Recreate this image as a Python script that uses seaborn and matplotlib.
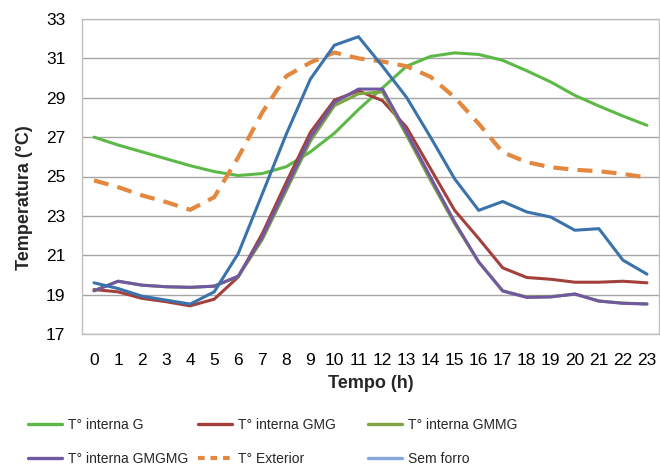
import matplotlib
matplotlib.use("Agg")
import matplotlib.pyplot as plt
import seaborn as sns
from matplotlib.lines import Line2D
from matplotlib import font_manager
from matplotlib.font_manager import FontProperties

# Hours of the day
horas = list(range(24))

# Temperatures (°C)
t_interna_g = [27.0, 26.6, 26.25, 25.9, 25.55, 25.25, 25.05, 25.15, 25.5, 26.25,
               27.2, 28.4, 29.5, 30.6, 31.1, 31.28, 31.2, 30.9, 30.37, 29.8,
               29.12, 28.58, 28.07, 27.6]
t_interna_gmg = [19.26, 19.14, 18.81, 18.64, 18.43, 18.77, 19.9, 22.1, 24.71, 27.24,
                 28.88, 29.35, 28.85, 27.5, 25.39, 23.28, 21.85, 20.36, 19.87, 19.78,
                 19.63, 19.63, 19.68, 19.6]
t_interna_gmmg = [19.2, 19.68, 19.48, 19.4, 19.37, 19.43, 19.92, 21.8, 24.3, 26.8,
                  28.6, 29.2, 29.3, 27.1, 24.8, 22.6, 20.66, 19.2, 18.88, 18.9,
                  19.03, 18.68, 18.57, 18.53]
t_interna_gmgmg = [19.19, 19.68, 19.48, 19.4, 19.37, 19.43, 19.94, 21.93, 24.46, 26.99,
                   28.76, 29.44, 29.44, 27.24, 24.96, 22.69, 20.66, 19.18, 18.86, 18.88,
                   19.03, 18.67, 18.56, 18.52]
t_exterior = [24.8, 24.46, 24.04, 23.7, 23.31, 23.95, 25.98, 28.26, 30.1, 30.79,
              31.3, 31.0, 30.84, 30.6, 30.06, 29.02, 27.68, 26.23, 25.73, 25.47,
              25.34, 25.27, 25.13, 24.95]
sem_forro = [19.6, 19.31, 18.92, 18.72, 18.52, 19.14, 21.09, 24.12, 27.16, 29.95,
             31.67, 32.1, 30.6, 29.02, 26.99, 24.88, 23.28, 23.73, 23.2, 22.94,
             22.27, 22.35, 20.75, 20.04]

y_ticks = list(range(17, 34, 2))

sns.set_style("white")
plt.rcParams['font.family'] = ['Liberation Sans', 'DejaVu Sans']

# narrow font for the legend if installed, otherwise plain Liberation Sans
fonte_leg = FontProperties(family='Liberation Sans', size=10)
for f in font_manager.fontManager.ttflist:
    if f.name == 'Liberation Sans Narrow' and f.style == 'normal' and f.weight in (400, 'normal', 'regular'):
        fonte_leg = FontProperties(fname=f.fname, size=11)
        break

fig = plt.figure(figsize=(6.6, 4.66), dpi=100)
ax = fig.add_axes([82 / 660, 1 - 334 / 466, 577 / 660, 315 / 466])

series = [
    ("T° interna G", t_interna_g, "#5DB947", "#5DB947"),
    ("T° interna GMG", t_interna_gmg, "#A3403C", "#A3403C"),
    ("T° interna GMMG", t_interna_gmmg, "#7EA443", "#7EA443"),
    ("T° interna GMGMG", t_interna_gmgmg, "#7059A0", "#7059A0"),
    ("T° Exterior", t_exterior, "#E3883E", "#E3883E"),
    ("Sem forro", sem_forro, "#3A72AB", "#85A8DA"),
]

handles = {}
for name, vals, cor, cor_leg in series:
    if name == "T° Exterior":
        sns.lineplot(x=horas, y=vals, ax=ax, color=cor, linewidth=3.0,
                     linestyle=(0, (3.6, 2.2)))
        handles[name] = Line2D([], [], color=cor_leg, linewidth=3.0,
                               linestyle=(0, (1.6, 1.4)))
    else:
        sns.lineplot(x=horas, y=vals, ax=ax, color=cor, linewidth=2.2)
        handles[name] = Line2D([], [], color=cor_leg, linewidth=2.4)

ax.set_xlim(-0.5, 23.5)
ax.set_ylim(17, 33)
ax.set_xticks(horas)
ax.set_yticks(y_ticks)
ax.tick_params(axis='both', length=0, labelsize=12.5, colors='black')
ax.tick_params(axis='y', pad=12)
ax.tick_params(axis='x', pad=13.5)
ax.grid(axis='y', color='#A6A6A6', linewidth=1.0)
ax.set_axisbelow(True)
for sp in ax.spines.values():
    sp.set_color('#BFBFBF')
    sp.set_linewidth(1.0)

ax.set_xlabel("Tempo (h)", fontsize=13, fontweight='bold', labelpad=5)
ax.set_ylabel("Temperatura (°C)", fontsize=13, fontweight='bold')
ax.yaxis.set_label_coords(-49 / 577, (334 - 198) / 315)

# legend entries placed one by one (3 columns x 2 rows)
posicoes = {
    "T° interna G": (28, 425), "T° interna GMG": (198, 425), "T° interna GMMG": (368, 425),
    "T° interna GMGMG": (28, 459), "T° Exterior": (198, 459), "Sem forro": (368, 459),
}
for nome, (x0, y0) in posicoes.items():
    fig.legend([handles[nome]], [nome], loc='center left',
               bbox_to_anchor=(x0 / 660, 1 - y0 / 466), frameon=False,
               prop=fonte_leg, handlelength=2.45, handletextpad=0.43,
               borderpad=0, borderaxespad=0)

fig.savefig("out.png", dpi=100)
